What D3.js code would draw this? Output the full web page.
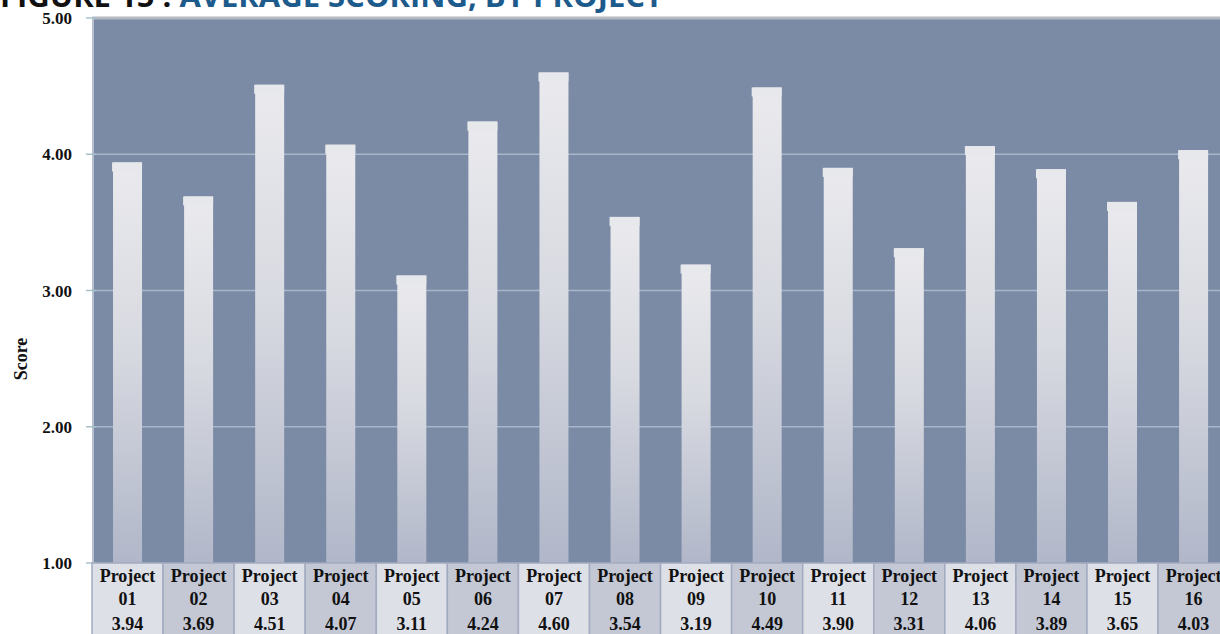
<!DOCTYPE html>
<html><head><meta charset="utf-8">
<script src="https://cdn.jsdelivr.net/npm/d3@7"></script>
<style>html,body{margin:0;padding:0;background:#fff;overflow:hidden}</style>
</head><body>
<svg id="c" width="1220" height="634"></svg>
<script>
const categories = ["01","02","03","04","05","06","07","08","09","10","11","12","13","14","15","16"];
const values = [3.94,3.69,4.51,4.07,3.11,4.24,4.60,3.54,3.19,4.49,3.90,3.31,4.06,3.89,3.65,4.03];
const yTicks = [1,2,3,4,5];
const titleBlack = "FIGURE 15 : ";
const titleBlue = "AVERAGE SCORING, BY PROJECT";
const yLabel = "Score";

const svg = d3.select("#c");
const plotLeft = 92, plotTop = 18, plotBottom = 563, bandW = 71.07;
const x = d3.scaleBand().domain(categories).range([plotLeft, plotLeft + bandW * categories.length]).paddingInner(0).paddingOuter(0);
const y = d3.scaleLinear().domain([1,5]).range([plotBottom, plotTop]);

const defs = svg.append("defs");
const g = defs.append("linearGradient").attr("id","barg").attr("x1",0).attr("y1",0).attr("x2",0).attr("y2",1);
g.append("stop").attr("offset","0%").attr("stop-color","#eaeaee");
g.append("stop").attr("offset","45%").attr("stop-color","#d8dae1");
g.append("stop").attr("offset","100%").attr("stop-color","#b1b7c9");

// plot background
svg.append("rect").attr("x",plotLeft).attr("y",plotTop).attr("width",1220-plotLeft).attr("height",plotBottom-plotTop).attr("fill","#7b8ba6");
svg.append("line").attr("x1",plotLeft).attr("x2",1220).attr("y1",plotTop).attr("y2",plotTop).attr("stroke","#b5b9c2").attr("stroke-width",3);
svg.append("line").attr("x1",plotLeft+1).attr("x2",plotLeft+1).attr("y1",plotTop).attr("y2",plotBottom).attr("stroke","#c8d0dc").attr("stroke-width",1.5);

// gridlines
svg.append("g").selectAll("line").data(yTicks.filter(d=>d>1 && d<5)).join("line")
  .attr("x1",plotLeft).attr("x2",1220).attr("y1",d=>y(d)).attr("y2",d=>y(d))
  .attr("stroke","#a7b6c8").attr("stroke-width",1.5);
// tick marks
svg.append("g").selectAll("line").data(yTicks).join("line")
  .attr("x1",plotLeft-6).attr("x2",plotLeft+4).attr("y1",d=>y(d)).attr("y2",d=>y(d))
  .attr("stroke","#a9c0cc").attr("stroke-width",1.5);

// bars
const bw = 29;
const bars = svg.append("g");
bars.selectAll("rect.b").data(values).join("rect").attr("class","b")
  .attr("x",(d,i)=>x(categories[i]) + x.bandwidth()/2 - bw/2)
  .attr("y",d=>y(d))
  .attr("width",bw).attr("height",d=>plotBottom - y(d))
  .attr("fill","url(#barg)");
bars.selectAll("rect.cap").data(values).join("rect").attr("class","cap")
  .attr("x",(d,i)=>x(categories[i]) + x.bandwidth()/2 - bw/2 - 1)
  .attr("y",d=>y(d))
  .attr("width",bw+1).attr("height",9)
  .attr("fill","#e7e8ec");

// y tick labels
svg.append("g").selectAll("text").data(yTicks).join("text")
  .attr("x",72).attr("y",d=>y(d)+6).attr("text-anchor","end")
  .attr("font-family","'Liberation Serif', serif").attr("font-weight","bold").attr("font-size",17)
  .attr("fill","#111").text(d=>d.toFixed(2));
svg.append("text").attr("transform","translate(27,359) rotate(-90)").attr("text-anchor","middle")
  .attr("font-family","'Liberation Serif', serif").attr("font-weight","bold").attr("font-size",18)
  .attr("fill","#111").text(yLabel);

// table
const tbl = svg.append("g");
tbl.selectAll("rect").data(categories).join("rect")
  .attr("x",d=>x(d)).attr("y",plotBottom).attr("width",x.bandwidth()).attr("height",634-plotBottom+2)
  .attr("fill",(d,i)=> i%2===0 ? "#dee0e7" : "#c4c8d5")
  .attr("stroke","#a3abc0").attr("stroke-width",1.5);
const tf = {"font-family":"'Liberation Serif', serif","font-weight":"bold","font-size":18};
function tt(rowY, fn){
  const s = tbl.append("g").selectAll("text").data(categories).join("text")
    .attr("x",d=>x(d)+x.bandwidth()/2).attr("y",rowY).attr("text-anchor","middle").attr("fill","#111").text(fn);
  Object.entries(tf).forEach(([k,v])=>s.attr(k,v));
}
tt(582, d=>"Project");
tt(605, d=>d);
tt(630, (d,i)=>values[i].toFixed(2));

// title (cut at top)
const t = svg.append("text").attr("x",0).attr("y",7)
  .attr("font-family","'Open Sans', sans-serif").attr("font-weight","bold").attr("font-size",31);
t.append("tspan").attr("fill","#111").text(titleBlack);
t.append("tspan").attr("fill","#1d5b8c").text(titleBlue);
</script>
</body></html>
